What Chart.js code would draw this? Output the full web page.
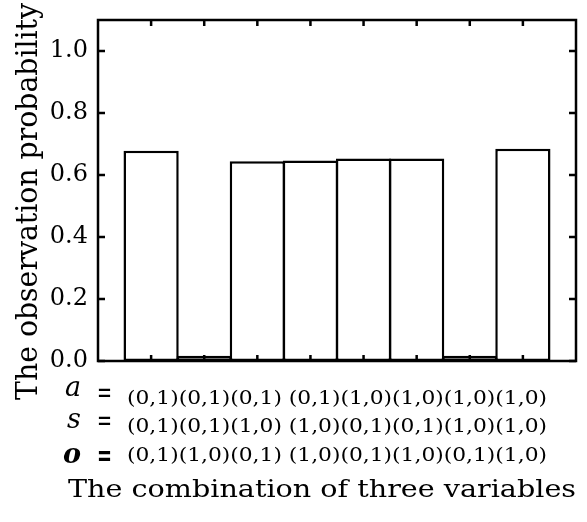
<!DOCTYPE html>
<html lang="en">
<head>
  <meta charset="UTF-8" />
  <title>Observation probability</title>
  <script src="https://cdn.jsdelivr.net/npm/chart.js"></script>
  <style>
    body { margin: 0; background: #fff; }
    canvas { display: block; }
  </style>
</head>
<body>
  <canvas id="probChart" width="587" height="522"></canvas>

  <script>
    // states of the three variables for each bar
    const aStates = ['(0,1)', '(0,1)', '(0,1)', '(0,1)', '(1,0)', '(1,0)', '(1,0)', '(1,0)'];
    const sStates = ['(0,1)', '(0,1)', '(1,0)', '(1,0)', '(0,1)', '(0,1)', '(1,0)', '(1,0)'];
    const oStates = ['(0,1)', '(1,0)', '(0,1)', '(1,0)', '(0,1)', '(1,0)', '(0,1)', '(1,0)'];
    const probs = [0.678, 0.017, 0.644, 0.647, 0.653, 0.653, 0.017, 0.685];
    const yTicks = [0, 0.2, 0.4, 0.6, 0.8, 1.0];

    const yTitle = 'The observation probability';
    const xTitle = 'The combination of three variables';

    // one empty slot at each end so the bars sit away from the frame
    const labels = ['', ...aStates.map((a, i) => a + sStates[i] + oStates[i]), ''];
    const values = [null, ...probs, null];

    const serif = '"DejaVu Serif", serif';

    function fitText(ctx, text, x, y, font, width) {
      ctx.font = font;
      const w = ctx.measureText(text).width;
      ctx.save();
      ctx.translate(x, y);
      ctx.scale(width / w, 1);
      ctx.fillText(text, 0, 0);
      ctx.restore();
    }

    const frameAndText = {
      id: 'frameAndText',
      afterDatasetsDraw(chart) {
        const { ctx, chartArea: a, scales: { x, y } } = chart;
        ctx.save();
        ctx.strokeStyle = '#000';
        ctx.lineWidth = 2.5;
        ctx.strokeRect(a.left, a.top, a.right - a.left, a.bottom - a.top);
        ctx.beginPath();
        probs.forEach((p, i) => {
          const px = x.getPixelForValue(i + 1);
          ctx.moveTo(px, a.top); ctx.lineTo(px, a.top + 6);
          ctx.moveTo(px, a.bottom); ctx.lineTo(px, a.bottom - 6);
        });
        yTicks.forEach(v => {
          const py = y.getPixelForValue(v);
          ctx.moveTo(a.left, py); ctx.lineTo(a.left + 7, py);
          ctx.moveTo(a.right, py); ctx.lineTo(a.right - 7, py);
        });
        ctx.stroke();
        ctx.restore();
      },
      afterDraw(chart) {
        const ctx = chart.ctx;
        ctx.save();
        ctx.fillStyle = '#000';
        ctx.textBaseline = 'alphabetic';
        ctx.textAlign = 'left';

        // rows under the plot: variable = states
        const rows = [
          { name: 'a', states: aStates, font: 'italic 27px ' + serif, nx: 65, nb: 396, eb: 402, tb: 404 },
          { name: 's', states: sStates, font: 'italic 27px ' + serif, nx: 67, nb: 428, eb: 430, tb: 432 },
          { name: 'o', states: oStates, font: 'italic bold 27px ' + serif, nx: 63, nb: 463, eb: 465, tb: 461 }
        ];
        rows.forEach(r => {
          ctx.font = r.font;
          ctx.fillText(r.name, r.nx, r.nb);
          fitText(ctx, '=', 97, r.eb, (r.name === 'o' ? 'bold ' : '') + '30px ' + serif, 15);
          const line = r.states.slice(0, 3).join('') + ' ' + r.states.slice(3).join('');
          fitText(ctx, line, 127, r.tb, '19px ' + serif, 420);
        });

        // x title
        fitText(ctx, xTitle, 68, 497, '24px ' + serif, 508);

        // y title, rotated
        ctx.font = '30px ' + serif;
        const w = ctx.measureText(yTitle).width;
        ctx.translate(37, 201.5);
        ctx.rotate(-Math.PI / 2);
        ctx.scale(397 / w, 1);
        ctx.textAlign = 'center';
        ctx.fillText(yTitle, 0, 0);
        ctx.restore();
      }
    };

    new Chart(document.getElementById('probChart'), {
      type: 'bar',
      data: {
        labels: labels,
        datasets: [{
          data: values,
          backgroundColor: '#fff',
          borderColor: '#000',
          borderWidth: 2.5,
          borderSkipped: false,
          barPercentage: 1.04,
          categoryPercentage: 1
        }]
      },
      options: {
        responsive: false,
        animation: false,
        layout: { padding: { top: 20, right: 11, left: 0, bottom: 0 } },
        plugins: { legend: { display: false }, tooltip: { enabled: false } },
        scales: {
          x: {
            offset: false,
            grid: { display: false },
            border: { display: false },
            ticks: { display: false },
            afterFit(s) { s.height = 161; }
          },
          y: {
            min: 0,
            max: 1.1,
            grid: { display: false, drawTicks: false },
            border: { display: false },
            ticks: {
              stepSize: 0.2,
              includeBounds: false,
              padding: 10,
              color: '#000',
              font: { family: serif, size: 24 },
              callback: v => v.toFixed(1)
            },
            afterFit(s) {
              s.width = 98;
              s.paddingTop = 0;
              s.paddingBottom = 0;
            }
          }
        }
      },
      plugins: [frameAndText]
    });
  </script>
</body>
</html>
